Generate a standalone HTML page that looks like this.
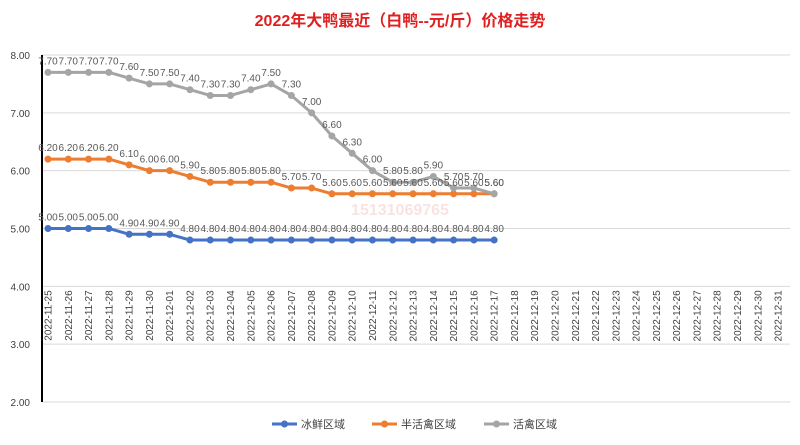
<!DOCTYPE html><html><head><meta charset="utf-8"><style>
body{margin:0;background:#fff;}svg{display:block;font-family:"Liberation Sans","Noto Sans CJK SC",sans-serif;}
</style></head><body>
<svg id="c" width="800" height="445" xmlns="http://www.w3.org/2000/svg">
<rect width="800" height="445" fill="#fff"/>
<text x="400" y="26" text-anchor="middle" font-size="16" font-weight="bold" fill="#e02020">2022年大鸭最近（白鸭--元/斤）价格走势</text>
</svg>
<script>
const s=document.getElementById('c'),NS='http://www.w3.org/2000/svg';
function el(t,a,txt){const e=document.createElementNS(NS,t);for(const k in a)e.setAttribute(k,a[k]);if(txt!=null)e.textContent=txt;s.appendChild(e);return e;}
const Y=v=>55+(8-v)*57.83, X=i=>48+i*20.28;
for(let v=2;v<=8;v++){el('line',{x1:42,x2:790,y1:Y(v),y2:Y(v),stroke:'#d9d9d9','stroke-width':1});el('text',{x:30,y:Y(v)+4,'text-anchor':'end','font-size':10,fill:'#404040'},v.toFixed(2));}
el('line',{x1:42,x2:42,y1:Y(8),y2:Y(2),stroke:'#000','stroke-width':2});
const d0=new Date(2022,10,25);
for(let i=0;i<37;i++){const d=new Date(d0.getTime()+i*86400000);const t=d.getFullYear()+'-'+String(d.getMonth()+1).padStart(2,'0')+'-'+String(d.getDate()).padStart(2,'0');
el('text',{x:0,y:0,'font-size':10,fill:'#404040','text-anchor':'end',transform:`translate(${X(i)+3.5},${Y(4)+4}) rotate(-90)`},t);}
el('text',{x:400,y:215,'text-anchor':'middle','font-size':16,'font-weight':'bold',fill:'#f6d0d0',opacity:0.6},'15131069765');
el('text',{x:400,y:196,'text-anchor':'middle','font-size':9,fill:'#eeeeee'},'WWW.INTEDC.COM');
const ice=[5,5,5,5,4.9,4.9,4.9].concat(Array(16).fill(4.8));
const half=[6.2,6.2,6.2,6.2,6.1,6,6,5.9,5.8,5.8,5.8,5.8,5.7,5.7].concat(Array(9).fill(5.6));
const full=[7.7,7.7,7.7,7.7,7.6,7.5,7.5,7.4,7.3,7.3,7.4,7.5,7.3,7.0,6.6,6.3,6.0,5.8,5.8,5.9,5.7,5.7,5.6];
function ser(a,c){el('polyline',{points:a.map((v,i)=>X(i)+','+Y(v)).join(' '),fill:'none',stroke:c,'stroke-width':3,'stroke-linejoin':'round'});
a.forEach((v,i)=>el('circle',{cx:X(i),cy:Y(v),r:3.5,fill:c}));}
function lab(a){a.forEach((v,i)=>el('text',{x:X(i),y:Y(v)-8,'text-anchor':'middle','font-size':10,fill:'#595959'},v.toFixed(2)));}
ser(ice,'#4472c4');ser(half,'#ed7d31');ser(full,'#a5a5a5');lab(ice);lab(half);lab(full);
const lg=[['冰鲜区域','#4472c4',272],['半活禽区域','#ed7d31',372],['活禽区域','#a5a5a5',484]];
lg.forEach(([t,c,x])=>{el('line',{x1:x,x2:x+25,y1:424,y2:424,stroke:c,'stroke-width':3});el('circle',{cx:x+12.5,cy:424,r:3.5,fill:c});el('text',{x:x+29,y:428,'font-size':11,fill:'#404040'},t);});
</script>
</body></html>
